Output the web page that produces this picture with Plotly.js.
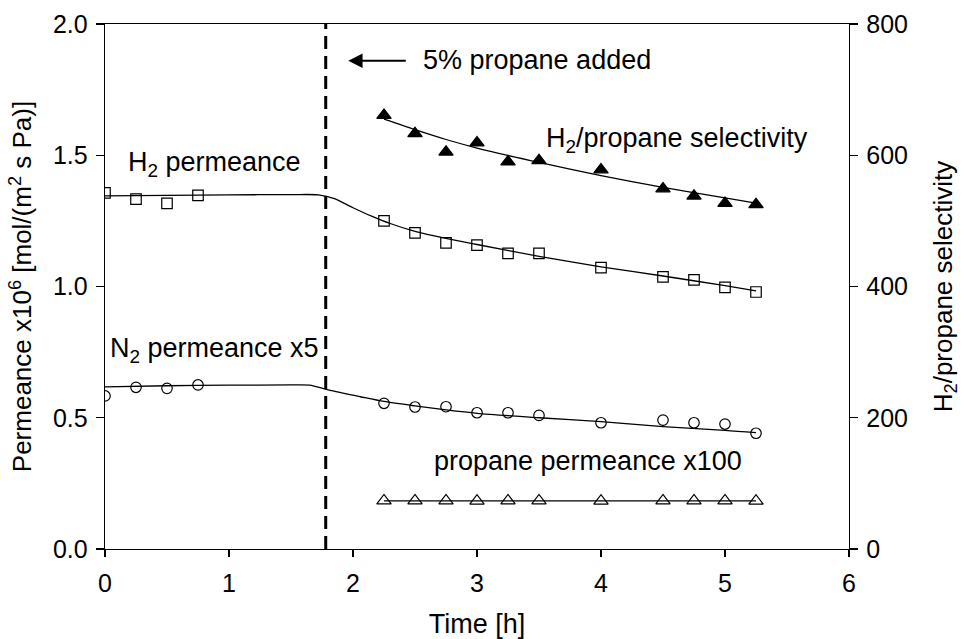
<!DOCTYPE html>
<html>
<head>
<meta charset="utf-8">
<script src="https://cdn.plot.ly/plotly-3.0.1.min.js"></script>
<style>
  html, body { margin: 0; padding: 0; background: #ffffff; }
  #chart { width: 964px; height: 639px; }
</style>
</head>
<body>
<div id="chart"></div>
<script>
// Measured points
const timeGas = [0, 0.25, 0.5, 0.75, 2.25, 2.5, 2.75, 3.0, 3.25, 3.5, 4.0, 4.5, 4.75, 5.0, 5.25];
const h2Permeance = [1.357, 1.333, 1.317, 1.347, 1.250, 1.204, 1.166, 1.158, 1.126, 1.126, 1.072, 1.037, 1.025, 0.997, 0.979];
const n2PermeanceX5 = [0.583, 0.616, 0.612, 0.625, 0.555, 0.541, 0.542, 0.519, 0.519, 0.509, 0.481, 0.491, 0.481, 0.476, 0.441];

const timePropane = [2.25, 2.5, 2.75, 3.0, 3.25, 3.5, 4.0, 4.5, 4.75, 5.0, 5.25];
const propanePermeanceX100 = [0.184, 0.184, 0.184, 0.183, 0.184, 0.184, 0.183, 0.184, 0.184, 0.184, 0.183];
const selectivity = [661, 633, 605, 619, 590, 592, 578, 549, 538, 527, 525];

// Trend curves
const h2FitTime = [0, 0.5, 1.0, 1.5, 1.72, 1.85, 2.0, 2.15, 2.3, 2.5, 2.75, 3.0, 3.5, 4.0, 4.5, 5.0, 5.25];
const h2Fit = [1.345, 1.347, 1.349, 1.350, 1.349, 1.335, 1.300, 1.268, 1.240, 1.210, 1.183, 1.160, 1.115, 1.075, 1.040, 1.003, 0.983];
const n2FitTime = [0, 0.5, 1.0, 1.5, 1.65, 1.8, 2.06, 2.25, 2.5, 2.75, 3.0, 3.5, 4.0, 4.5, 5.0, 5.25];
const n2Fit = [0.618, 0.622, 0.624, 0.625, 0.624, 0.606, 0.580, 0.562, 0.545, 0.530, 0.517, 0.500, 0.485, 0.466, 0.452, 0.443];
const propaneFitTime = [2.25, 5.25];
const propaneFit = [0.183, 0.183];
const selFitTime = [2.25, 2.5, 2.75, 3.0, 3.5, 4.0, 4.5, 5.0, 5.25];
const selFit = [655, 639, 624, 611, 589, 569, 551, 535, 527];

// Time at which propane was added
const propaneAddedAt = 1.78;

const FONT = 'Liberation Sans, Arial, Helvetica, sans-serif';
const BLACK = '#000000';

const fitLine = (x, y, axis) => ({
  x, y, yaxis: axis, type: 'scatter', mode: 'lines',
  line: { color: BLACK, width: 1.3, shape: 'spline', smoothing: 0.8 },
  hoverinfo: 'skip', showlegend: false
});
const points = (x, y, axis, symbol, size, fill) => ({
  x, y, yaxis: axis, type: 'scatter', mode: 'markers',
  marker: { symbol, size, color: fill, line: { color: BLACK, width: 1.2 } },
  showlegend: false
});

const data = [
  fitLine(h2FitTime, h2Fit, 'y'),
  fitLine(n2FitTime, n2Fit, 'y'),
  fitLine(propaneFitTime, propaneFit, 'y'),
  fitLine(selFitTime, selFit, 'y2'),
  points(timeGas, h2Permeance, 'y', 'square-open', 10.5, BLACK),
  points(timeGas, n2PermeanceX5, 'y', 'circle-open', 10.5, BLACK),
  points(timePropane, propanePermeanceX100, 'y', 'triangle-up-open', 12.5, BLACK),
  points(timePropane, selectivity, 'y2', 'triangle-up', 12.5, BLACK)
];

const labelFont = { family: FONT, size: 27, color: BLACK };
const note = (x, y, text) => ({
  x, y, xref: 'x', yref: 'y', text, showarrow: false,
  xanchor: 'center', yanchor: 'middle', font: labelFont
});

const layout = {
  width: 964, height: 639,
  margin: { l: 105, r: 115, t: 24, b: 90 },
  paper_bgcolor: '#ffffff', plot_bgcolor: '#ffffff',
  font: { family: FONT, size: 25, color: BLACK },
  showlegend: false,
  xaxis: {
    range: [0, 6], dtick: 1, tick0: 0,
    showgrid: false, zeroline: false,
    showline: true, linecolor: BLACK, linewidth: 1.3, mirror: true,
    ticks: 'outside', ticklen: 7, tickwidth: 1.2, tickcolor: BLACK,
    ticklabelstandoff: 5,
    tickfont: { family: FONT, size: 25, color: BLACK },
    title: { text: 'Time [h]', font: { family: FONT, size: 27, color: BLACK }, standoff: 20 }
  },
  yaxis: {
    range: [0, 2], dtick: 0.5, tick0: 0, tickformat: '.1f',
    showgrid: false, zeroline: false,
    showline: true, linecolor: BLACK, linewidth: 1.3,
    ticks: 'outside', ticklen: 8, tickwidth: 1.2, tickcolor: BLACK,
    ticklabelstandoff: 3,
    tickfont: { family: FONT, size: 25, color: BLACK },
    title: { text: 'Permeance x10<sup>6</sup> [mol/(m<sup>2</sup> s Pa)]', font: { family: FONT, size: 26, color: BLACK }, standoff: 13 }
  },
  yaxis2: {
    range: [0, 800], dtick: 200, tick0: 0,
    overlaying: 'y', side: 'right',
    showgrid: false, zeroline: false,
    showline: true, linecolor: BLACK, linewidth: 1.3,
    ticks: 'outside', ticklen: 8, tickwidth: 1.2, tickcolor: BLACK,
    ticklabelstandoff: 3,
    tickfont: { family: FONT, size: 25, color: BLACK },
    title: { text: 'H<sub>2</sub>/propane selectivity', font: { family: FONT, size: 26, color: BLACK }, standoff: 26 }
  },
  shapes: [{
    type: 'line', xref: 'x', yref: 'paper',
    x0: propaneAddedAt, x1: propaneAddedAt, y0: 0, y1: 1,
    line: { color: BLACK, width: 3, dash: '13px,7px' }
  }],
  annotations: [
    note(0.885, 1.467, 'H<sub>2</sub> permeance'),
    note(4.61, 1.558, 'H<sub>2</sub>/propane selectivity'),
    note(0.879, 0.759, 'N<sub>2</sub> permeance x5'),
    note(3.897, 0.334, 'propane permeance x100'),
    note(3.483, 1.863, '5% propane added'),
    {
      x: 1.962, y: 1.86, xref: 'x', yref: 'y',
      ax: 2.438, ay: 1.86, axref: 'x', ayref: 'y',
      text: '', showarrow: true,
      arrowhead: 2, arrowsize: 1.3, arrowwidth: 2.2, arrowcolor: BLACK
    }
  ]
};

Plotly.newPlot('chart', data, layout, { staticPlot: true, displayModeBar: false });
</script>
</body>
</html>
